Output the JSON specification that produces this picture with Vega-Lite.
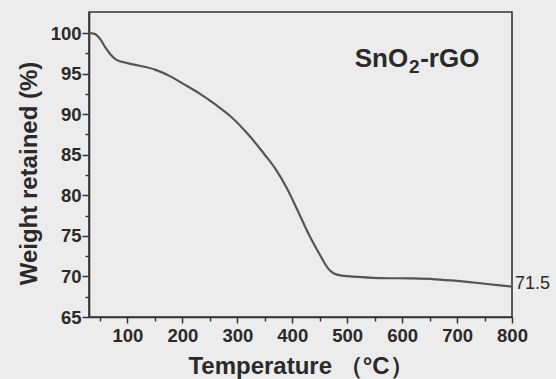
{
  "$schema": "https://vega.github.io/schema/vega-lite/v6.json",
  "autosize": "none",
  "width": 423,
  "height": 305,
  "padding": {"left": 89, "top": 12, "right": 44, "bottom": 62},
  "background": "#ececec",
  "config": {
    "view": {"stroke": "#333333", "strokeWidth": 1.6},
    "font": "Liberation Sans",
    "axis": {
      "domainColor": "#333333", "domainWidth": 1.6, "tickColor": "#333333", "tickWidth": 1.5,
      "labelFont": "Liberation Sans", "labelFontWeight": "bold", "labelFontSize": 18.5, "labelColor": "#2a2a2a",
      "titleFont": "Liberation Sans", "titleFontWeight": "bold", "titleFontSize": 24, "titleColor": "#2a2a2a",
      "grid": false
    }
  },
  "datasets": {
    "tga": [
      {"T": 30, "W": 100.0}, {"T": 40, "W": 99.9}, {"T": 50, "W": 99.3}, {"T": 60, "W": 98.2},
      {"T": 70, "W": 97.3}, {"T": 80, "W": 96.7}, {"T": 100, "W": 96.3}, {"T": 120, "W": 96.0},
      {"T": 150, "W": 95.5}, {"T": 180, "W": 94.6}, {"T": 200, "W": 93.8}, {"T": 230, "W": 92.6},
      {"T": 260, "W": 91.2}, {"T": 290, "W": 89.6}, {"T": 320, "W": 87.5}, {"T": 350, "W": 85.0},
      {"T": 370, "W": 83.2}, {"T": 390, "W": 80.9}, {"T": 410, "W": 78.1}, {"T": 430, "W": 75.2},
      {"T": 450, "W": 72.7}, {"T": 465, "W": 71.0}, {"T": 475, "W": 70.4}, {"T": 490, "W": 70.1},
      {"T": 520, "W": 69.95}, {"T": 560, "W": 69.8}, {"T": 620, "W": 69.75}, {"T": 660, "W": 69.65},
      {"T": 700, "W": 69.45}, {"T": 750, "W": 69.1}, {"T": 800, "W": 68.75}
    ],
    "labels": [
      {"T": 622, "W": 96.8, "text": "SnO", "kind": "a"},
      {"T": 622, "W": 96.8, "text": "2", "kind": "b"},
      {"T": 622, "W": 96.8, "text": "-rGO", "kind": "c"},
      {"T": 800, "W": 69.1, "text": "71.5", "kind": "end"}
    ]
  },
  "resolve": {"axis": {"x": "independent", "y": "independent"}},
  "layer": [
    {
      "data": {"name": "tga"},
      "mark": {"type": "line", "color": "#555555", "strokeWidth": 2.2, "interpolate": "monotone"},
      "encoding": {
        "x": {"field": "T", "type": "quantitative", "scale": {"domain": [30, 800], "nice": false, "zero": false},
          "axis": {"orient": "bottom", "title": "Temperature （°C）", "values": [100, 200, 300, 400, 500, 600, 700, 800], "tickSize": 6, "labelPadding": 3, "titlePadding": 10, "labelFlush": false}},
        "y": {"field": "W", "type": "quantitative", "scale": {"domain": [65, 102.6], "nice": false, "zero": false},
          "axis": {"orient": "left", "title": "Weight retained (%)", "values": [65, 70, 75, 80, 85, 90, 95, 100], "tickSize": 7, "labelPadding": 1, "titlePadding": 9, "titleY": 161}}
      }
    },
    {
      "data": {"name": "tga"},
      "mark": {"type": "point", "opacity": 0},
      "encoding": {
        "x": {"field": "T", "type": "quantitative",
          "axis": {"orient": "bottom", "title": null, "labels": false, "domain": false, "values": [50, 150, 250, 350, 450, 550, 650, 750], "tickSize": 4}},
        "y": {"field": "W", "type": "quantitative",
          "axis": {"orient": "left", "title": null, "labels": false, "domain": false, "values": [67.5, 72.5, 77.5, 82.5, 87.5, 92.5, 97.5], "tickSize": 4}}
      }
    },
    {
      "data": {"name": "labels"},
      "transform": [{"filter": "datum.kind == 'a'"}],
      "mark": {"type": "text", "fontSize": 26, "fontWeight": "bold", "color": "#2a2a2a", "align": "right", "baseline": "middle", "dx": -6},
      "encoding": {
        "x": {"field": "T", "type": "quantitative", "axis": null},
        "y": {"field": "W", "type": "quantitative", "axis": null},
        "text": {"field": "text"}
      }
    },
    {
      "data": {"name": "labels"},
      "transform": [{"filter": "datum.kind == 'b'"}],
      "mark": {"type": "text", "fontSize": 19, "fontWeight": "bold", "color": "#2a2a2a", "align": "center", "baseline": "middle", "dy": 8},
      "encoding": {
        "x": {"field": "T", "type": "quantitative", "axis": null},
        "y": {"field": "W", "type": "quantitative", "axis": null},
        "text": {"field": "text"}
      }
    },
    {
      "data": {"name": "labels"},
      "transform": [{"filter": "datum.kind == 'c'"}],
      "mark": {"type": "text", "fontSize": 26, "fontWeight": "bold", "color": "#2a2a2a", "align": "left", "baseline": "middle", "dx": 6},
      "encoding": {
        "x": {"field": "T", "type": "quantitative", "axis": null},
        "y": {"field": "W", "type": "quantitative", "axis": null},
        "text": {"field": "text"}
      }
    },
    {
      "data": {"name": "labels"},
      "transform": [{"filter": "datum.kind == 'end'"}],
      "mark": {"type": "text", "fontSize": 18, "color": "#2a2a2a", "align": "left", "baseline": "middle", "dx": 3},
      "encoding": {
        "x": {"field": "T", "type": "quantitative", "axis": null},
        "y": {"field": "W", "type": "quantitative", "axis": null},
        "text": {"field": "text"}
      }
    }
  ]
}
